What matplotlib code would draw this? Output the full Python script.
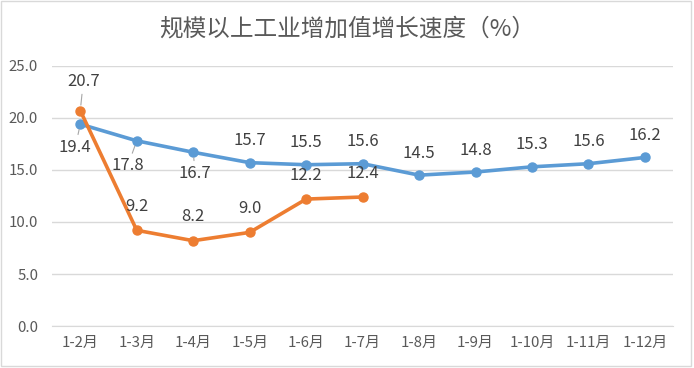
import matplotlib
matplotlib.use("Agg")
import matplotlib.pyplot as plt
from matplotlib.patches import Rectangle

plt.rcParams['font.family'] = ['Noto Sans CJK SC', 'DejaVu Sans']

title = "规模以上工业增加值增长速度（%）"
categories = ["1-2月", "1-3月", "1-4月", "1-5月", "1-6月", "1-7月",
              "1-8月", "1-9月", "1-10月", "1-11月", "1-12月"]
blue_values = [19.4, 17.8, 16.7, 15.7, 15.5, 15.6, 14.5, 14.8, 15.3, 15.6, 16.2]
orange_values = [20.7, 9.2, 8.2, 9.0, 12.2, 12.4]
yticks = [0, 5, 10, 15, 20, 25]

BLUE = "#5B9BD5"
ORANGE = "#ED7D31"
TXT = "#404040"
TICK = "#595959"

fig = plt.figure(figsize=(6.94, 3.68), dpi=100)
ax = fig.add_axes([0.075, 0.114, 0.895, 0.707])

# figure border
fig.patches.append(Rectangle((0.002, 0.006), 0.994, 0.99, transform=fig.transFigure,
                             fill=False, edgecolor="#D9D9D9", linewidth=1.0))

x_blue = list(range(len(blue_values)))
x_orange = list(range(len(orange_values)))

ax.plot(x_blue, blue_values, color=BLUE, linewidth=2.6, marker='o', markersize=6.5,
        zorder=3, solid_capstyle='round')
ax.plot(x_orange, orange_values, color=ORANGE, linewidth=2.6, marker='o', markersize=6.5,
        zorder=4, solid_capstyle='round')

ax.set_xlim(-0.5, len(categories) - 0.5)
ax.set_ylim(0, 25)
ax.set_yticks(yticks)
ax.set_yticklabels([f"{v:.1f}" for v in yticks])
ax.set_xticks(x_blue)
ax.set_xticklabels(categories)

ax.grid(axis='y', color="#D9D9D9", linewidth=1.0)
ax.set_axisbelow(True)
for s in ['top', 'right', 'left']:
    ax.spines[s].set_visible(False)
ax.spines['bottom'].set_color("#D9D9D9")
ax.tick_params(axis='both', length=0, labelsize=10.8, labelcolor=TICK)
ax.tick_params(axis='x', pad=7)
ax.tick_params(axis='y', pad=10)

fig.text(0.5, 0.922, title, ha='center', va='center', fontsize=17, color=TICK)

px = 72.0 / 100.0  # points per pixel

def label(x, y, text, dx_px, dy_px, leader=False):
    kw = {}
    if leader:
        kw['arrowprops'] = dict(arrowstyle='-', color='#A6A6A6', lw=0.8,
                                shrinkA=1, shrinkB=4)
    ax.annotate(text, (x, y), xytext=(dx_px * px, dy_px * px), textcoords='offset points',
                ha='center', va='center', fontsize=12, color=TXT, zorder=5, **kw)

blue_offsets = [(-5, -23, True), (-9, -25, True), (2, -21, True)]
for i, v in enumerate(blue_values):
    if i < len(blue_offsets):
        dx, dy, ld = blue_offsets[i]
        label(i, v, f"{v:.1f}", dx, dy, ld)
    else:
        label(i, v, f"{v:.1f}", 0, 22)

for i, v in enumerate(orange_values):
    if i == 0:
        label(i, v, f"{v:.1f}", 3, 29, True)
    else:
        label(i, v, f"{v:.1f}", 0, 24)

fig.savefig("out.png", dpi=100)
